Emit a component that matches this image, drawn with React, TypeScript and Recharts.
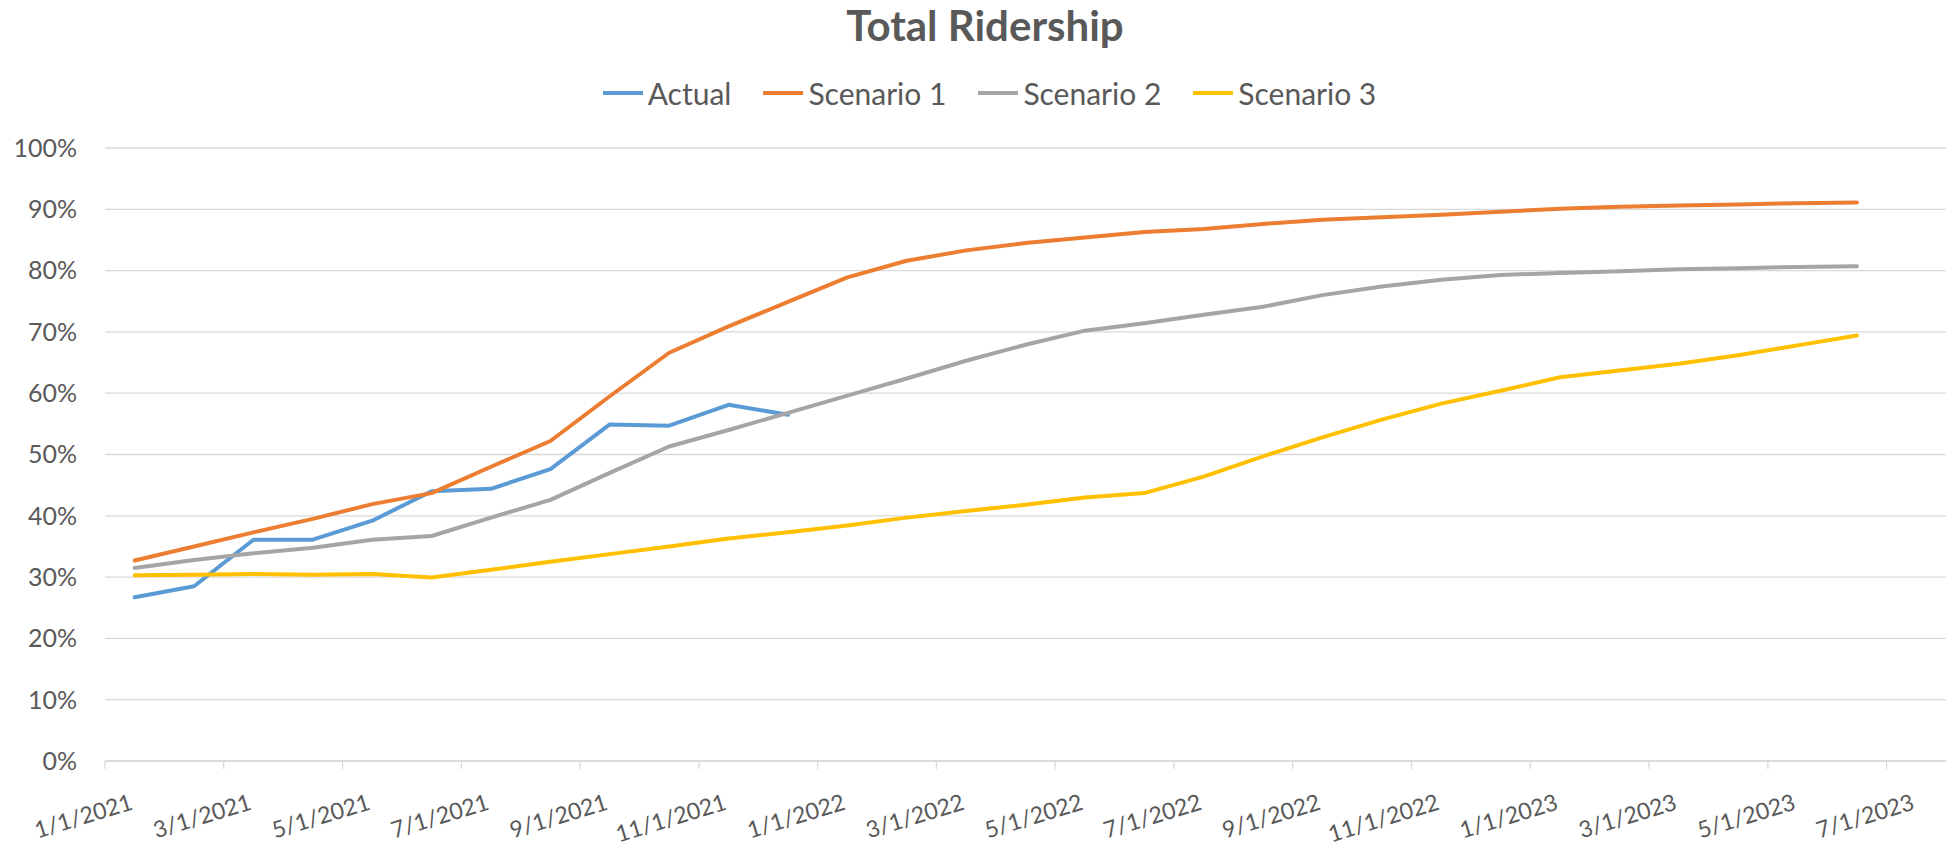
import React from 'react';
import { LineChart, Line, XAxis, YAxis, CartesianGrid, Legend } from 'recharts';

const FONT = "Lato, 'Open Sans', sans-serif";
const TEXT = '#595959';
const GRID = '#D9D9D9';

// monthly data points, Jan 2021 - Jun 2023
const months = [
  '1/1/2021', '2/1/2021', '3/1/2021', '4/1/2021', '5/1/2021', '6/1/2021',
  '7/1/2021', '8/1/2021', '9/1/2021', '10/1/2021', '11/1/2021', '12/1/2021',
  '1/1/2022', '2/1/2022', '3/1/2022', '4/1/2022', '5/1/2022', '6/1/2022',
  '7/1/2022', '8/1/2022', '9/1/2022', '10/1/2022', '11/1/2022', '12/1/2022',
  '1/1/2023', '2/1/2023', '3/1/2023', '4/1/2023', '5/1/2023', '6/1/2023',
];

const actual = [26.7, 28.5, 36.1, 36.1, 39.2, 44.0, 44.4, 47.6, 54.9, 54.7, 58.1, 56.5];
const scenario1 = [
  32.7, 35.0, 37.3, 39.5, 41.9, 43.7, 48.0, 52.2, 59.5, 66.6, 70.9, 74.9, 78.9, 81.6, 83.3,
  84.5, 85.4, 86.3, 86.8, 87.6, 88.3, 88.7, 89.1, 89.6, 90.1, 90.4, 90.6, 90.8, 91.0, 91.1,
];
const scenario2 = [
  31.5, 32.8, 33.9, 34.8, 36.1, 36.7, 39.7, 42.6, 47.0, 51.3, 54.0, 56.8, 59.6, 62.4, 65.3,
  67.9, 70.2, 71.4, 72.8, 74.1, 76.0, 77.4, 78.5, 79.3, 79.6, 79.9, 80.2, 80.4, 80.6, 80.7,
];
const scenario3 = [
  30.3, 30.4, 30.5, 30.4, 30.5, 29.95, 31.2, 32.5, 33.75, 35.0, 36.3, 37.3, 38.4, 39.7, 40.8,
  41.8, 43.0, 43.7, 46.4, 49.7, 52.8, 55.7, 58.3, 60.4, 62.6, 63.7, 64.8, 66.2, 67.8, 69.4,
];

// axis ticks every 2 months (x in months from 1/1/2021)
const xTicks = [0, 2, 4, 6, 8, 10, 12, 14, 16, 18, 20, 22, 24, 26, 28, 30];
const xTickLabels = [
  '1/1/2021', '3/1/2021', '5/1/2021', '7/1/2021', '9/1/2021', '11/1/2021',
  '1/1/2022', '3/1/2022', '5/1/2022', '7/1/2022', '9/1/2022', '11/1/2022',
  '1/1/2023', '3/1/2023', '5/1/2023', '7/1/2023',
];
const yTicks = [0, 10, 20, 30, 40, 50, 60, 70, 80, 90, 100];

const SERIES = [
  { key: 'actual', name: 'Actual', color: '#5B9BD5' },
  { key: 's1', name: 'Scenario 1', color: '#ED7D31' },
  { key: 's2', name: 'Scenario 2', color: '#A5A5A5' },
  { key: 's3', name: 'Scenario 3', color: '#FFC000' },
];

// points sit in the middle of each month slot
const data = months.map((d, i) => ({
  date: d,
  m: i + 0.5,
  actual: i < actual.length ? actual[i] : null,
  s1: scenario1[i],
  s2: scenario2[i],
  s3: scenario3[i],
}));

const DateTick = ({ x, y, payload }: any) => {
  const ax = x + 29;
  const ay = y + 38;
  const label = xTickLabels[xTicks.indexOf(payload.value)];
  return (
    <text
      x={ax}
      y={ay}
      textAnchor="end"
      fill={TEXT}
      fontSize={23}
      fontFamily={FONT}
      transform={`rotate(-17 ${ax} ${ay})`}
    >
      {label}
    </text>
  );
};

const renderLegend = () => (
  <div
    style={{
      display: 'flex',
      justifyContent: 'center',
      alignItems: 'center',
      gap: 32,
      height: 40,
      paddingLeft: 33,
      fontFamily: FONT,
      fontSize: 30,
      color: TEXT,
    }}
  >
    {SERIES.map((s) => (
      <div key={s.key} style={{ display: 'flex', alignItems: 'center' }}>
        <span style={{ display: 'inline-block', width: 40, height: 4, background: s.color, marginRight: 5 }} />
        <span>{s.name}</span>
      </div>
    ))}
  </div>
);

export default function App() {
  return (
    <div style={{ position: 'absolute', left: 0, top: 0, width: 1946, height: 846, background: '#fff', overflow: 'hidden' }}>
      <svg style={{ position: 'absolute', left: 0, top: 0 }} width={1946} height={70}>
        <text x={985} y={41} textAnchor="middle" fill={TEXT} fontSize={42} fontWeight={700} fontFamily={FONT}>
          Total Ridership
        </text>
      </svg>
      <LineChart width={1946} height={846} data={data} margin={{ top: 73, right: 0, bottom: 0, left: 0 }}>
        <CartesianGrid horizontal vertical={false} stroke={GRID} strokeWidth={1.3} />
        <XAxis
          dataKey="m"
          type="number"
          domain={[0, 31]}
          ticks={xTicks}
          interval={0}
          height={85}
          axisLine={{ stroke: GRID, strokeWidth: 1.3 }}
          tickLine={{ stroke: GRID, strokeWidth: 1.3 }}
          tickSize={8}
          tick={<DateTick />}
        />
        <YAxis
          type="number"
          domain={[0, 100]}
          ticks={yTicks}
          width={105}
          axisLine={false}
          tickLine={false}
          tickSize={0}
          tickMargin={28}
          tickFormatter={(v: number) => `${v}%`}
          tick={{ fill: TEXT, fontSize: 25, fontFamily: FONT }}
        />
        <Legend
          verticalAlign="top"
          align="center"
          content={renderLegend}
          wrapperStyle={{ top: 73, left: 0, width: 1946, height: 75 }}
        />
        {SERIES.map((s) => (
          <Line
            key={s.key}
            type="linear"
            dataKey={s.key}
            name={s.name}
            stroke={s.color}
            strokeWidth={4}
            strokeLinecap="round"
            strokeLinejoin="round"
            dot={false}
            activeDot={false}
            isAnimationActive={false}
          />
        ))}
      </LineChart>
    </div>
  );
}
